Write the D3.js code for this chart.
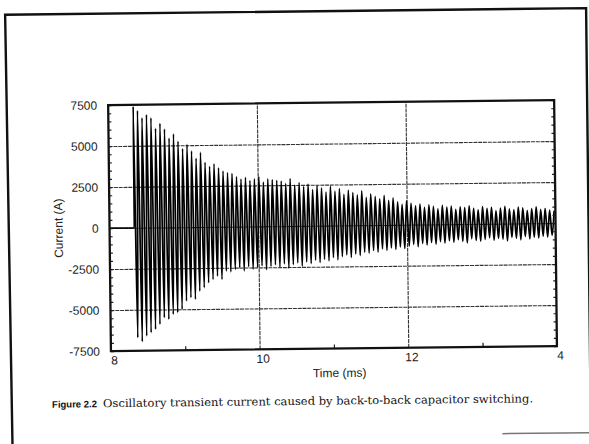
<!DOCTYPE html>
<html>
<head>
<meta charset="utf-8">
<script src="https://cdn.jsdelivr.net/npm/d3@7"></script>
<style>
  body { margin: 0; background: #fff; }
  svg { display: block; }
</style>
</head>
<body>
<div id="chart"></div>
<script>
// axis ticks
const timeTicks = [8, 10, 12, 14];
const timeTickLabels = ['8', '10', '12', '4']; // the "1" of 14 is cut off in the scan
const timeMinorTicks = [9, 11, 13];
const currentTicks = [-7500, -5000, -2500, 0, 2500, 5000, 7500];
const currentTickLabels = ['-7500', '-5000', '-2500', '0', '2500', '5000', '7500'];
const currentGrid = [-5000, -2500, 0, 2500, 5000];

// switching instant (ms) and the first spike (A)
const switchTime = 8.333;
const switchPeak = 7400;

// ringing: peak times start here and repeat every peakPeriod (ms)
const firstNegPeak = 8.363;
const firstPosPeak = 8.393;
const peakPeriod = 0.0601;

// positive peak of each cycle (A)
const posPeaks = [
  7150, 6700, 6900, 6700, 6050, 6350, 6000, 5450, 5700, 5250,
  4800, 5050, 4650, 4200, 4550, 3950, 3700, 3850, 3600, 3400,
  3300, 3250, 3050, 2900, 3000, 2800, 2900, 3050, 2700, 2900,
  2850, 2800, 2750, 2600, 2900, 2500, 2650, 2400, 2550, 2200,
  2450, 2300, 2050, 2400, 2100, 2250, 1900, 2150, 2000, 1850,
  2100, 1700, 1900, 1750, 1600, 1800, 1500, 1650, 1400, 1250,
  1450, 1300, 1150, 1250, 1050, 1200, 1100, 950, 1150, 1050,
  1100, 900, 1050, 1000, 1100, 950, 850, 1050, 950, 1000,
  800, 950, 1050, 900, 850, 1000, 950, 800, 900, 1000,
  850, 900, 800, 750
];

// negative peak of each cycle (A)
const negPeaks = [
  -6700, -6950, -6600, -6400, -6200, -5900, -5500, -5600, -5300, -5200,
  -5000, -4500, -4300, -4400, -3900, -3700, -3400, -3200, -3000, -3200,
  -2700, -2750, -2600, -2500, -2700, -2450, -2600, -2500, -2400, -2650,
  -2450, -2350, -2500, -2300, -2550, -2350, -2250, -2450, -2200, -2300,
  -2100, -2250, -2050, -2150, -1950, -2100, -1900, -1800, -1950, -1750,
  -1850, -1650, -1700, -1550, -1650, -1450, -1550, -1400, -1500, -1350,
  -1450, -1300, -1200, -1350, -1150, -1250, -1100, -1200, -1050, -1150,
  -1000, -1100, -950, -1050, -1150, -900, -1000, -1050, -950, -850,
  -1000, -900, -950, -1050, -850, -900, -1000, -800, -950, -850,
  -900, -800, -850, -750
];

class TransientChart {

  constructor(_config, _data) {
    this.config = {
      parentElement: _config.parentElement,
      width: 589,
      height: 444,
      margin: {top: 103, right: 33.5, bottom: 95, left: 109.5}
    }
    this.data = _data;
    this.initVis();
  }

  initVis() {
    let vis = this;

    vis.svg = d3.select(vis.config.parentElement).append('svg')
      .attr('width', vis.config.width)
      .attr('height', vis.config.height)
      .style('background', '#fff');

    // the scanned page is tilted a little, so is everything on it
    vis.page = vis.svg.append('g')
      .attr('transform', 'rotate(-0.65, 294, 222)');

    // page border
    vis.page.append('path')
      .attr('d', 'M10,446 L7.5,11.5 L588.5,11.5 L588.5,436')
      .attr('fill', 'none')
      .attr('stroke', '#111')
      .attr('stroke-width', 2.4);
    vis.page.append('line')
      .attr('x1', 500).attr('x2', 590)
      .attr('y1', 436).attr('y2', 436)
      .attr('stroke', '#777')
      .attr('stroke-width', 1.5);

    vis.innerW = vis.config.width - vis.config.margin.left - vis.config.margin.right;
    vis.innerH = vis.config.height - vis.config.margin.top - vis.config.margin.bottom;

    vis.chart = vis.page.append('g')
      .attr('transform', `translate(${vis.config.margin.left},${vis.config.margin.top})`);

    vis.x = d3.scaleLinear().domain([8, 14]).range([0, vis.innerW]);
    vis.y = d3.scaleLinear().domain([-7500, 7500]).range([vis.innerH, 0]);

    // grid lines
    vis.chart.append('g')
      .attr('class', 'grid')
      .call(d3.axisLeft(vis.y).tickValues(currentGrid).tickSize(-vis.innerW).tickFormat(''));
    vis.chart.append('g')
      .attr('class', 'grid')
      .attr('transform', `translate(0,${vis.innerH})`)
      .call(d3.axisBottom(vis.x).tickValues([10, 12]).tickSize(-vis.innerH).tickFormat(''));
    vis.chart.selectAll('.grid .domain').remove();
    vis.chart.selectAll('.grid line')
      .attr('stroke', '#333')
      .attr('stroke-width', 1.1)
      .attr('stroke-dasharray', '4,0.8');

    vis.chart.append('clipPath').attr('id', 'plot-clip')
      .append('rect').attr('width', vis.innerW).attr('height', vis.innerH);

    vis.trace = vis.chart.append('path')
      .attr('clip-path', 'url(#plot-clip)')
      .attr('fill', 'none')
      .attr('stroke', '#000')
      .attr('stroke-width', 1.7);

    // minor ticks, pointing in
    let minorY = d3.range(-7500, 7501, 500);
    vis.chart.append('g').attr('class', 'minor')
      .call(d3.axisLeft(vis.y).tickValues(minorY).tickSize(-3).tickFormat(''));
    vis.chart.append('g').attr('class', 'minor')
      .attr('transform', `translate(${vis.innerW},0)`)
      .call(d3.axisRight(vis.y).tickValues(minorY).tickSize(-3).tickFormat(''));
    vis.chart.append('g').attr('class', 'minor')
      .attr('transform', `translate(0,${vis.innerH})`)
      .call(d3.axisBottom(vis.x).tickValues(timeMinorTicks).tickSize(-4).tickFormat(''));
    vis.chart.selectAll('.minor .domain').remove();
    vis.chart.selectAll('.minor line').attr('stroke', '#222').attr('stroke-width', 1.2);

    // plot frame
    vis.chart.append('rect')
      .attr('width', vis.innerW)
      .attr('height', vis.innerH)
      .attr('fill', 'none')
      .attr('stroke', '#111')
      .attr('stroke-width', 2.3);

    // tick labels
    vis.chart.append('g')
      .call(d3.axisLeft(vis.y).tickValues(currentTicks).tickSize(0).tickPadding(11)
        .tickFormat((d, i) => currentTickLabels[i]))
      .call(g => g.select('.domain').remove());
    vis.chart.append('g')
      .attr('transform', `translate(0,${vis.innerH})`)
      .call(d3.axisBottom(vis.x).tickValues(timeTicks).tickSize(0).tickPadding(5)
        .tickFormat((d, i) => timeTickLabels[i]))
      .call(g => g.select('.domain').remove())
      .selectAll('text').attr('dx', 3);
    vis.chart.selectAll('.tick text')
      .attr('font-family', 'Liberation Sans, Arial, sans-serif')
      .attr('font-size', 12)
      .attr('fill', '#222');

    // axis titles
    vis.chart.append('text')
      .attr('x', 228.5)
      .attr('y', vis.innerH + 28.5)
      .attr('text-anchor', 'middle')
      .attr('font-family', 'Liberation Sans, Arial, sans-serif')
      .attr('font-size', 12)
      .attr('fill', '#222')
      .text('Time (ms)');
    vis.chart.append('text')
      .attr('transform', `translate(-47,${vis.innerH / 2 - 0.5}) rotate(-90)`)
      .attr('text-anchor', 'middle')
      .attr('font-family', 'Liberation Sans, Arial, sans-serif')
      .attr('font-size', 12)
      .attr('fill', '#222')
      .text('Current (A)');

    // caption under the figure
    let caption = vis.page.append('text')
      .attr('x', 50)
      .attr('y', 405)
      .attr('fill', '#111');
    caption.append('tspan')
      .attr('font-family', 'Liberation Sans, Arial, sans-serif')
      .attr('font-weight', 'bold')
      .attr('font-size', 9.5)
      .text('Figure 2.2');
    caption.append('tspan')
      .attr('x', 101)
      .attr('font-family', 'DejaVu Serif, serif')
      .attr('font-size', 11)
      .attr('textLength', 430)
      .attr('lengthAdjust', 'spacingAndGlyphs')
      .text('Oscillatory transient current caused by back-to-back capacitor switching.');

    vis.updateVis();
  }

  updateVis() {
    let vis = this;

    vis.line = d3.line()
      .x(d => vis.x(d.t))
      .y(d => vis.y(d.current))
      .curve(d3.curveMonotoneX);

    vis.trace.attr('d', vis.line(vis.data));
  }
}

// flat before switching, the first spike, then alternating negative / positive peaks
let waveform = [
  {t: 8, current: 0},
  {t: switchTime, current: 0},
  {t: switchTime + 0.002, current: switchPeak}
];
negPeaks.forEach((v, i) => {
  waveform.push({t: firstNegPeak + i * peakPeriod, current: v});
  waveform.push({t: firstPosPeak + i * peakPeriod, current: posPeaks[i]});
});

let chart = new TransientChart({parentElement: '#chart'}, waveform);
</script>
</body>
</html>
